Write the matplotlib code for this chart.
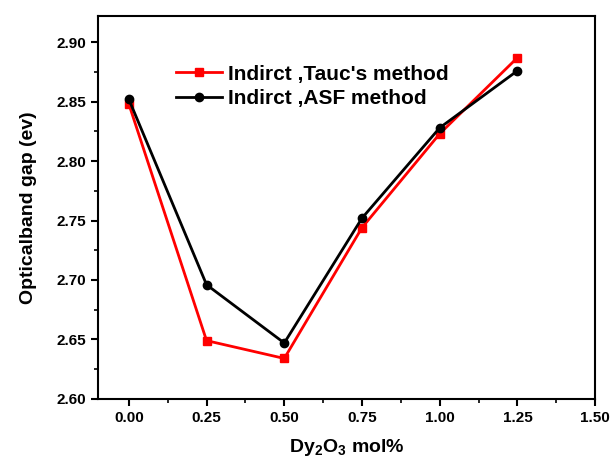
import matplotlib.pyplot as plt
import numpy as np

plt.rcParams['font.family'] = 'Liberation Sans'
plt.rcParams['font.weight'] = 'bold'
plt.rcParams['mathtext.fontset'] = 'custom'
plt.rcParams['mathtext.rm'] = 'Liberation Sans:bold'
plt.rcParams['mathtext.bf'] = 'Liberation Sans:bold'
plt.rcParams['mathtext.default'] = 'bf'

dy_mol = [0.00, 0.25, 0.50, 0.75, 1.00, 1.25]
tauc_gap = [2.848, 2.649, 2.634, 2.744, 2.823, 2.887]
asf_gap = [2.852, 2.696, 2.647, 2.752, 2.828, 2.876]

fig = plt.figure(figsize=(6.11, 4.59), dpi=100)
ax = fig.add_axes([0.160, 0.131, 0.814, 0.834])

ax.plot(dy_mol, tauc_gap, color="red", marker="s", markersize=6, lw=2,
        label="Indirct ,Tauc's method")
ax.plot(dy_mol, asf_gap, color="black", marker="o", markersize=6, lw=2,
        label="Indirct ,ASF method")

ax.set_xlim(-0.1, 1.5)
ax.set_ylim(2.60, 2.922)
ax.set_xticks(np.arange(0, 1.51, 0.25))
ax.set_xticks(np.arange(0.125, 1.5, 0.25), minor=True)
ax.set_yticks(np.arange(2.60, 2.91, 0.05))
ax.set_yticks(np.arange(2.625, 2.92, 0.05), minor=True)
ax.xaxis.set_major_formatter(plt.FormatStrFormatter("%.2f"))
ax.yaxis.set_major_formatter(plt.FormatStrFormatter("%.2f"))
ax.tick_params(which="major", direction="out", length=5, width=1.5, labelsize=11)
ax.tick_params(which="minor", direction="out", length=3, width=1.2)
for s in ax.spines.values():
    s.set_linewidth(1.5)

ax.set_xlabel(r"Dy$_2$O$_3$ mol%", fontsize=14, fontweight="bold", labelpad=9)
ax.set_ylabel("Opticalband gap (ev)", fontsize=14, fontweight="bold", labelpad=14)

ax.legend(loc="upper left", bbox_to_anchor=(0.14, 0.895), frameon=False,
          prop={"weight": "bold", "size": 15}, handlelength=2.2,
          handletextpad=0.3, labelspacing=0.25, borderaxespad=0)

plt.savefig("out.png", dpi=100)
